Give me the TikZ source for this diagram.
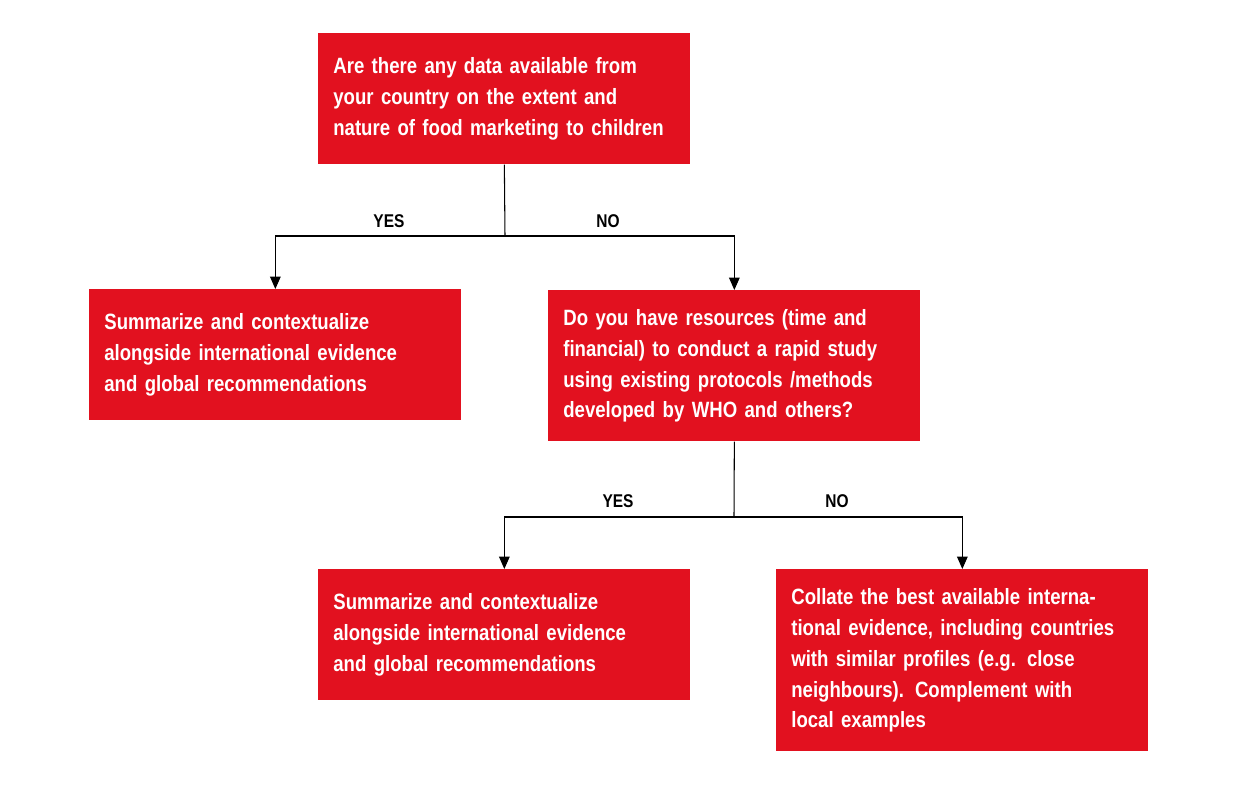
\documentclass[tikz,border=0pt]{standalone}
\usepackage{fontspec}
\setmainfont{Liberation Sans}[FakeStretch=0.84]
\usetikzlibrary{arrows.meta}
\definecolor{boxred}{HTML}{E2111F}
\begin{document}
\begin{tikzpicture}[x=0.02cm,y=-0.02cm,
  box/.style={fill=boxred,text=white,font=\bfseries\fontsize{12.6}{17.6}\selectfont,
    align=left,inner sep=0pt,minimum width=372*0.02cm,text width=342*0.02cm,anchor=north west},
  lbl/.style={font=\bfseries\fontsize{10.5}{12}\selectfont},
  arr/.style={-{Triangle[length=7pt,width=6pt]},line width=0.6pt},
  ln/.style={line width=0.6pt}]
\useasboundingbox (0,0) rectangle (1249,791);
\node[box,minimum height=131*0.02cm] (q1) at (318,33) {Are there any data available from\\your country on the extent and\\nature of food marketing to children};
\node[box,minimum height=131*0.02cm] (a1) at (89,289) {Summarize and contextualize\\alongside international evidence\\and global recommendations};
\node[box,minimum height=151*0.02cm] (q2) at (548,290) {Do you have resources (time and\\financial) to conduct a rapid study\\using existing protocols /methods\\developed by WHO and others?};
\node[box,minimum height=131*0.02cm] (a2) at (318,569) {Summarize and contextualize\\alongside international evidence\\and global recommendations};
\node[box,minimum height=182*0.02cm] (a3) at (776,569) {Collate the best available interna-\\tional evidence, including countries\\with similar profiles (e.g. close\\neighbours). Complement with\\local examples};
\coordinate (j1) at (505,236);
\coordinate (j2) at (734,517);
\draw[ln] (q1.south) -- (j1);
\draw[arr] (j1) -| (a1.north);
\draw[arr] (j1) -| (q2.north);
\draw[ln] (q2.south) -- (j2);
\draw[arr] (j2) -| (a2.north);
\draw[arr] (j2) -| (a3.north);
\node[lbl] (y1) at (389,221) {YES};
\node[lbl] (n1) at (608,221) {NO};
\node[lbl] (y2) at (618,501) {YES};
\node[lbl] (n2) at (837,501) {NO};
\end{tikzpicture}
\end{document}
